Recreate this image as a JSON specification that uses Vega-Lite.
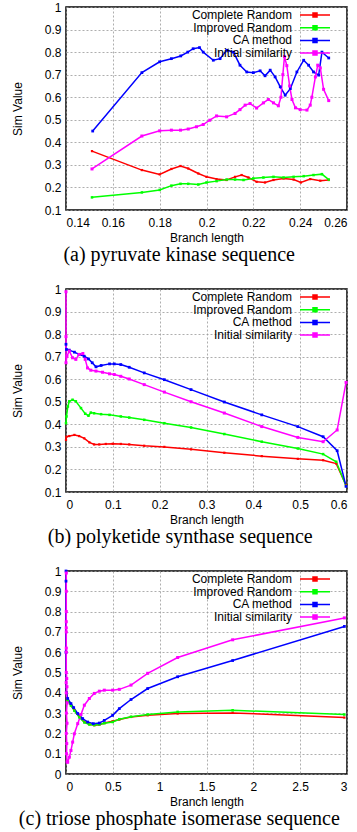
{
"$schema": "https://vega.github.io/schema/vega-lite/v6.json",
"padding": {"left": 10, "top": 0, "right": 4, "bottom": 0},
"background": "white",
"config": {
 "view": {"stroke": "black", "strokeWidth": 1.5},
 "font": "Liberation Sans",
 "axis": {"gridDash": [2, 2], "gridColor": "#999999", "gridWidth": 0.8, "domain": false, "ticks": false, "labelFontSize": 12, "labelColor": "black", "titleFontSize": 12, "titleFontWeight": "normal", "titleColor": "black", "labelFont": "Liberation Sans", "titleFont": "Liberation Sans"},
 "axisX": {"labelPadding": 7, "titlePadding": 4},
 "axisY": {"labelPadding": 5, "titlePadding": 20},
 "title": {"font": "Liberation Serif", "fontSize": 20, "fontWeight": "normal", "color": "black"},
 "concat": {"spacing": 16},
 "legend": {"title": null, "orient": "none", "legendX": 243, "legendY": 2, "symbolType": "M-3,0H3M-0.4,-0.4H0.4V0.4H-0.4Z", "symbolSize": 100, "symbolStrokeWidth": 1.5, "labelAlign": "right", "labelOffset": -29, "labelFontSize": 12, "labelFont": "Liberation Sans", "labelColor": "black", "rowPadding": 0.7, "padding": 0, "labelLimit": 300}
},
"datasets": {
 "a": [
  {"s":"CR","x":0.1511,"y":0.361,"i":1},{"s":"CR","x":0.1724,"y":0.277,"i":2},{"s":"CR","x":0.180,"y":0.258,"i":3},{"s":"CR","x":0.185,"y":0.282,"i":4},{"s":"CR","x":0.1889,"y":0.295,"i":5},{"s":"CR","x":0.1922,"y":0.284,"i":6},{"s":"CR","x":0.1965,"y":0.262,"i":7},{"s":"CR","x":0.200,"y":0.247,"i":8},{"s":"CR","x":0.2043,"y":0.237,"i":9},{"s":"CR","x":0.2086,"y":0.233,"i":10},{"s":"CR","x":0.2122,"y":0.247,"i":11},{"s":"CR","x":0.215,"y":0.255,"i":12},{"s":"CR","x":0.2179,"y":0.244,"i":13},{"s":"CR","x":0.2214,"y":0.225,"i":14},{"s":"CR","x":0.225,"y":0.222,"i":15},{"s":"CR","x":0.2286,"y":0.233,"i":16},{"s":"CR","x":0.2329,"y":0.240,"i":17},{"s":"CR","x":0.2372,"y":0.235,"i":18},{"s":"CR","x":0.2403,"y":0.222,"i":19},{"s":"CR","x":0.2443,"y":0.237,"i":20},{"s":"CR","x":0.2486,"y":0.230,"i":21},{"s":"CR","x":0.2522,"y":0.233,"i":22},
  {"s":"IR","x":0.1511,"y":0.156,"i":30},{"s":"IR","x":0.1724,"y":0.178,"i":31},{"s":"IR","x":0.180,"y":0.189,"i":32},{"s":"IR","x":0.185,"y":0.208,"i":33},{"s":"IR","x":0.1889,"y":0.216,"i":34},{"s":"IR","x":0.1922,"y":0.216,"i":35},{"s":"IR","x":0.1965,"y":0.213,"i":36},{"s":"IR","x":0.200,"y":0.222,"i":37},{"s":"IR","x":0.2043,"y":0.228,"i":38},{"s":"IR","x":0.2086,"y":0.235,"i":39},{"s":"IR","x":0.2122,"y":0.235,"i":40},{"s":"IR","x":0.2158,"y":0.233,"i":41},{"s":"IR","x":0.220,"y":0.240,"i":42},{"s":"IR","x":0.2243,"y":0.244,"i":43},{"s":"IR","x":0.2286,"y":0.247,"i":44},{"s":"IR","x":0.2329,"y":0.244,"i":45},{"s":"IR","x":0.2372,"y":0.247,"i":46},{"s":"IR","x":0.2415,"y":0.250,"i":47},{"s":"IR","x":0.2457,"y":0.255,"i":48},{"s":"IR","x":0.2493,"y":0.259,"i":49},{"s":"IR","x":0.2522,"y":0.235,"i":50},
  {"s":"CA","x":0.1514,"y":0.450,"i":60},{"s":"CA","x":0.1724,"y":0.709,"i":61},{"s":"CA","x":0.180,"y":0.757,"i":62},{"s":"CA","x":0.185,"y":0.771,"i":63},{"s":"CA","x":0.189,"y":0.783,"i":64},{"s":"CA","x":0.192,"y":0.800,"i":65},{"s":"CA","x":0.1943,"y":0.815,"i":66},{"s":"CA","x":0.197,"y":0.820,"i":67},{"s":"CA","x":0.1986,"y":0.800,"i":68},{"s":"CA","x":0.2029,"y":0.764,"i":69},{"s":"CA","x":0.2058,"y":0.771,"i":70},{"s":"CA","x":0.2086,"y":0.808,"i":71},{"s":"CA","x":0.2115,"y":0.800,"i":72},{"s":"CA","x":0.2143,"y":0.742,"i":73},{"s":"CA","x":0.2172,"y":0.712,"i":74},{"s":"CA","x":0.220,"y":0.709,"i":75},{"s":"CA","x":0.2229,"y":0.717,"i":76},{"s":"CA","x":0.225,"y":0.695,"i":77},{"s":"CA","x":0.2272,"y":0.720,"i":78},{"s":"CA","x":0.2293,"y":0.690,"i":79},{"s":"CA","x":0.2315,"y":0.646,"i":80},{"s":"CA","x":0.2336,"y":0.609,"i":81},{"s":"CA","x":0.2358,"y":0.638,"i":82},{"s":"CA","x":0.2386,"y":0.712,"i":83},{"s":"CA","x":0.2415,"y":0.764,"i":84},{"s":"CA","x":0.2436,"y":0.742,"i":85},{"s":"CA","x":0.2457,"y":0.712,"i":86},{"s":"CA","x":0.2479,"y":0.698,"i":87},{"s":"CA","x":0.2493,"y":0.800,"i":88},{"s":"CA","x":0.2522,"y":0.774,"i":89},
  {"s":"IS","x":0.1511,"y":0.282,"i":100},{"s":"IS","x":0.1724,"y":0.428,"i":101},{"s":"IS","x":0.180,"y":0.451,"i":102},{"s":"IS","x":0.185,"y":0.454,"i":103},{"s":"IS","x":0.1889,"y":0.454,"i":104},{"s":"IS","x":0.1922,"y":0.459,"i":105},{"s":"IS","x":0.1957,"y":0.469,"i":106},{"s":"IS","x":0.1986,"y":0.479,"i":107},{"s":"IS","x":0.2014,"y":0.498,"i":108},{"s":"IS","x":0.2043,"y":0.517,"i":109},{"s":"IS","x":0.2086,"y":0.513,"i":110},{"s":"IS","x":0.2122,"y":0.528,"i":111},{"s":"IS","x":0.2143,"y":0.545,"i":112},{"s":"IS","x":0.2165,"y":0.565,"i":113},{"s":"IS","x":0.2186,"y":0.572,"i":114},{"s":"IS","x":0.2214,"y":0.552,"i":115},{"s":"IS","x":0.2243,"y":0.575,"i":116},{"s":"IS","x":0.2264,"y":0.590,"i":117},{"s":"IS","x":0.2286,"y":0.575,"i":118},{"s":"IS","x":0.2307,"y":0.562,"i":119},{"s":"IS","x":0.2318,"y":0.600,"i":120},{"s":"IS","x":0.2326,"y":0.700,"i":121},{"s":"IS","x":0.2333,"y":0.780,"i":122},{"s":"IS","x":0.2343,"y":0.740,"i":123},{"s":"IS","x":0.2355,"y":0.650,"i":124},{"s":"IS","x":0.2365,"y":0.590,"i":125},{"s":"IS","x":0.238,"y":0.553,"i":126},{"s":"IS","x":0.240,"y":0.545,"i":127},{"s":"IS","x":0.2429,"y":0.543,"i":128},{"s":"IS","x":0.2443,"y":0.565,"i":129},{"s":"IS","x":0.245,"y":0.600,"i":130},{"s":"IS","x":0.2465,"y":0.690,"i":131},{"s":"IS","x":0.2475,"y":0.742,"i":132},{"s":"IS","x":0.2486,"y":0.730,"i":133},{"s":"IS","x":0.250,"y":0.635,"i":134},{"s":"IS","x":0.2522,"y":0.585,"i":135}
 ],
 "b": [
  {"s":"CR","x":0,"y":0.331,"i":1},{"s":"CR","x":0.001,"y":0.345,"i":2},{"s":"CR","x":0.007,"y":0.348,"i":3},{"s":"CR","x":0.018,"y":0.353,"i":4},{"s":"CR","x":0.028,"y":0.348,"i":5},{"s":"CR","x":0.039,"y":0.338,"i":6},{"s":"CR","x":0.05,"y":0.320,"i":7},{"s":"CR","x":0.06,"y":0.311,"i":8},{"s":"CR","x":0.071,"y":0.311,"i":9},{"s":"CR","x":0.085,"y":0.313,"i":10},{"s":"CR","x":0.1,"y":0.314,"i":11},{"s":"CR","x":0.117,"y":0.313,"i":12},{"s":"CR","x":0.135,"y":0.311,"i":13},{"s":"CR","x":0.167,"y":0.305,"i":14},{"s":"CR","x":0.21,"y":0.300,"i":15},{"s":"CR","x":0.267,"y":0.289,"i":16},{"s":"CR","x":0.338,"y":0.274,"i":17},{"s":"CR","x":0.418,"y":0.259,"i":18},{"s":"CR","x":0.495,"y":0.247,"i":19},{"s":"CR","x":0.549,"y":0.241,"i":20},{"s":"CR","x":0.577,"y":0.226,"i":21},{"s":"CR","x":0.598,"y":0.130,"i":22},
  {"s":"IR","x":0,"y":0.405,"i":30},{"s":"IR","x":0.001,"y":0.435,"i":31},{"s":"IR","x":0.004,"y":0.479,"i":32},{"s":"IR","x":0.007,"y":0.502,"i":33},{"s":"IR","x":0.014,"y":0.509,"i":34},{"s":"IR","x":0.021,"y":0.502,"i":35},{"s":"IR","x":0.032,"y":0.472,"i":36},{"s":"IR","x":0.041,"y":0.447,"i":37},{"s":"IR","x":0.048,"y":0.438,"i":38},{"s":"IR","x":0.053,"y":0.452,"i":39},{"s":"IR","x":0.06,"y":0.449,"i":40},{"s":"IR","x":0.075,"y":0.445,"i":41},{"s":"IR","x":0.093,"y":0.442,"i":42},{"s":"IR","x":0.117,"y":0.435,"i":43},{"s":"IR","x":0.135,"y":0.430,"i":44},{"s":"IR","x":0.167,"y":0.420,"i":45},{"s":"IR","x":0.21,"y":0.405,"i":46},{"s":"IR","x":0.267,"y":0.386,"i":47},{"s":"IR","x":0.338,"y":0.357,"i":48},{"s":"IR","x":0.418,"y":0.323,"i":49},{"s":"IR","x":0.495,"y":0.293,"i":50},{"s":"IR","x":0.549,"y":0.268,"i":51},{"s":"IR","x":0.577,"y":0.234,"i":52},{"s":"IR","x":0.598,"y":0.127,"i":53},
  {"s":"CA","x":0,"y":0.755,"i":60},{"s":"CA","x":0.001,"y":0.732,"i":61},{"s":"CA","x":0.007,"y":0.729,"i":62},{"s":"CA","x":0.018,"y":0.720,"i":63},{"s":"CA","x":0.028,"y":0.710,"i":64},{"s":"CA","x":0.039,"y":0.702,"i":65},{"s":"CA","x":0.048,"y":0.690,"i":66},{"s":"CA","x":0.056,"y":0.673,"i":67},{"s":"CA","x":0.064,"y":0.655,"i":68},{"s":"CA","x":0.075,"y":0.661,"i":69},{"s":"CA","x":0.093,"y":0.668,"i":70},{"s":"CA","x":0.103,"y":0.668,"i":71},{"s":"CA","x":0.117,"y":0.665,"i":72},{"s":"CA","x":0.135,"y":0.653,"i":73},{"s":"CA","x":0.167,"y":0.628,"i":74},{"s":"CA","x":0.21,"y":0.598,"i":75},{"s":"CA","x":0.267,"y":0.554,"i":76},{"s":"CA","x":0.338,"y":0.499,"i":77},{"s":"CA","x":0.418,"y":0.442,"i":78},{"s":"CA","x":0.495,"y":0.390,"i":79},{"s":"CA","x":0.549,"y":0.345,"i":80},{"s":"CA","x":0.579,"y":0.283,"i":81},{"s":"CA","x":0.598,"y":0.125,"i":82},
  {"s":"IS","x":0,"y":0.988,"i":100},{"s":"IS","x":0,"y":0.789,"i":101},{"s":"IS","x":0,"y":0.673,"i":102},{"s":"IS","x":0.002,"y":0.702,"i":103},{"s":"IS","x":0.007,"y":0.725,"i":104},{"s":"IS","x":0.014,"y":0.695,"i":105},{"s":"IS","x":0.021,"y":0.688,"i":106},{"s":"IS","x":0.028,"y":0.710,"i":107},{"s":"IS","x":0.036,"y":0.714,"i":108},{"s":"IS","x":0.041,"y":0.688,"i":109},{"s":"IS","x":0.046,"y":0.650,"i":110},{"s":"IS","x":0.053,"y":0.640,"i":111},{"s":"IS","x":0.064,"y":0.636,"i":112},{"s":"IS","x":0.078,"y":0.631,"i":113},{"s":"IS","x":0.093,"y":0.624,"i":114},{"s":"IS","x":0.103,"y":0.621,"i":115},{"s":"IS","x":0.117,"y":0.613,"i":116},{"s":"IS","x":0.135,"y":0.601,"i":117},{"s":"IS","x":0.167,"y":0.576,"i":118},{"s":"IS","x":0.21,"y":0.543,"i":119},{"s":"IS","x":0.267,"y":0.500,"i":120},{"s":"IS","x":0.338,"y":0.450,"i":121},{"s":"IS","x":0.418,"y":0.390,"i":122},{"s":"IS","x":0.495,"y":0.342,"i":123},{"s":"IS","x":0.549,"y":0.323,"i":124},{"s":"IS","x":0.579,"y":0.375,"i":125},{"s":"IS","x":0.598,"y":0.586,"i":126}
 ],
 "c": [
  {"s":"CR","x":0.003,"y":0.40,"i":1},{"s":"CR","x":0.018,"y":0.364,"i":2},{"s":"CR","x":0.053,"y":0.339,"i":3},{"s":"CR","x":0.089,"y":0.314,"i":4},{"s":"CR","x":0.142,"y":0.281,"i":5},{"s":"CR","x":0.196,"y":0.256,"i":6},{"s":"CR","x":0.249,"y":0.245,"i":7},{"s":"CR","x":0.302,"y":0.240,"i":8},{"s":"CR","x":0.356,"y":0.243,"i":9},{"s":"CR","x":0.409,"y":0.251,"i":10},{"s":"CR","x":0.498,"y":0.260,"i":11},{"s":"CR","x":0.569,"y":0.268,"i":12},{"s":"CR","x":0.694,"y":0.281,"i":13},{"s":"CR","x":0.872,"y":0.289,"i":14},{"s":"CR","x":1.192,"y":0.298,"i":15},{"s":"CR","x":1.779,"y":0.301,"i":16},{"s":"CR","x":2.972,"y":0.278,"i":17},
  {"s":"IR","x":0.003,"y":0.40,"i":30},{"s":"IR","x":0.018,"y":0.364,"i":31},{"s":"IR","x":0.053,"y":0.337,"i":32},{"s":"IR","x":0.089,"y":0.312,"i":33},{"s":"IR","x":0.142,"y":0.279,"i":34},{"s":"IR","x":0.196,"y":0.254,"i":35},{"s":"IR","x":0.249,"y":0.244,"i":36},{"s":"IR","x":0.302,"y":0.241,"i":37},{"s":"IR","x":0.356,"y":0.244,"i":38},{"s":"IR","x":0.409,"y":0.250,"i":39},{"s":"IR","x":0.498,"y":0.256,"i":40},{"s":"IR","x":0.569,"y":0.270,"i":41},{"s":"IR","x":0.694,"y":0.282,"i":42},{"s":"IR","x":0.872,"y":0.293,"i":43},{"s":"IR","x":1.192,"y":0.306,"i":44},{"s":"IR","x":1.779,"y":0.314,"i":45},{"s":"IR","x":2.972,"y":0.293,"i":46},
  {"s":"CA","x":0,"y":1.0,"i":60},{"s":"CA","x":0,"y":0.95,"i":61},{"s":"CA","x":0,"y":0.60,"i":62},{"s":"CA","x":0.005,"y":0.40,"i":63},{"s":"CA","x":0.018,"y":0.372,"i":64},{"s":"CA","x":0.053,"y":0.347,"i":65},{"s":"CA","x":0.082,"y":0.327,"i":66},{"s":"CA","x":0.125,"y":0.298,"i":67},{"s":"CA","x":0.178,"y":0.273,"i":68},{"s":"CA","x":0.231,"y":0.256,"i":69},{"s":"CA","x":0.292,"y":0.248,"i":70},{"s":"CA","x":0.356,"y":0.251,"i":71},{"s":"CA","x":0.409,"y":0.264,"i":72},{"s":"CA","x":0.498,"y":0.289,"i":73},{"s":"CA","x":0.569,"y":0.322,"i":74},{"s":"CA","x":0.694,"y":0.367,"i":75},{"s":"CA","x":0.872,"y":0.421,"i":76},{"s":"CA","x":1.192,"y":0.479,"i":77},{"s":"CA","x":1.779,"y":0.559,"i":78},{"s":"CA","x":2.972,"y":0.727,"i":79},
  {"s":"IS","x":0.003,"y":0.99,"i":100},{"s":"IS","x":0.003,"y":0.90,"i":101},{"s":"IS","x":0.003,"y":0.80,"i":102},{"s":"IS","x":0.003,"y":0.75,"i":103},{"s":"IS","x":0.003,"y":0.72,"i":104},{"s":"IS","x":0.003,"y":0.70,"i":105},{"s":"IS","x":0.003,"y":0.62,"i":106},{"s":"IS","x":0.003,"y":0.60,"i":107},{"s":"IS","x":0.003,"y":0.50,"i":108},{"s":"IS","x":0.008,"y":0.47,"i":109},{"s":"IS","x":0.002,"y":0.45,"i":110},{"s":"IS","x":0.01,"y":0.43,"i":111},{"s":"IS","x":0.003,"y":0.40,"i":112},{"s":"IS","x":0.012,"y":0.35,"i":113},{"s":"IS","x":0.004,"y":0.30,"i":114},{"s":"IS","x":0.011,"y":0.25,"i":115},{"s":"IS","x":0.003,"y":0.20,"i":116},{"s":"IS","x":0.008,"y":0.15,"i":117},{"s":"IS","x":0.006,"y":0.10,"i":118},{"s":"IS","x":0.012,"y":0.06,"i":119},{"s":"IS","x":0.018,"y":0.058,"i":120},{"s":"IS","x":0.036,"y":0.083,"i":121},{"s":"IS","x":0.053,"y":0.116,"i":122},{"s":"IS","x":0.071,"y":0.157,"i":123},{"s":"IS","x":0.089,"y":0.198,"i":124},{"s":"IS","x":0.125,"y":0.248,"i":125},{"s":"IS","x":0.16,"y":0.293,"i":126},{"s":"IS","x":0.196,"y":0.339,"i":127},{"s":"IS","x":0.249,"y":0.372,"i":128},{"s":"IS","x":0.302,"y":0.397,"i":129},{"s":"IS","x":0.356,"y":0.408,"i":130},{"s":"IS","x":0.409,"y":0.413,"i":131},{"s":"IS","x":0.498,"y":0.413,"i":132},{"s":"IS","x":0.569,"y":0.417,"i":133},{"s":"IS","x":0.694,"y":0.438,"i":134},{"s":"IS","x":0.872,"y":0.496,"i":135},{"s":"IS","x":1.192,"y":0.574,"i":136},{"s":"IS","x":1.779,"y":0.661,"i":137},{"s":"IS","x":2.972,"y":0.769,"i":138}
 ]
},
"vconcat": [
 {
  "width": 281, "height": 203,
  "data": {"name": "a"},
  "title": {"text": "(a) pyruvate kinase sequence", "orient": "bottom", "anchor": "middle", "frame": "bounds", "offset": 2},
  "encoding": {
   "x": {"field": "x", "type": "quantitative", "scale": {"domain": [0.14, 0.26], "nice": false, "zero": false}, "axis": {"values": [0.14, 0.16, 0.18, 0.2, 0.22, 0.24, 0.26], "format": "~g", "title": "Branch length"}},
   "y": {"field": "y", "type": "quantitative", "scale": {"domain": [0.1, 1], "nice": false, "zero": false}, "axis": {"values": [0.1, 0.2, 0.3, 0.4, 0.5, 0.6, 0.7, 0.8, 0.9, 1], "format": "~g", "title": "Sim Value"}},
   "color": {"field": "s", "type": "nominal", "scale": {"domain": ["CR", "IR", "CA", "IS"], "range": ["#ff0000", "#00ff00", "#0000ff", "#ff00ff"]}, "legend": {"labelExpr": "datum.label == 'CR' ? 'Complete Random' : datum.label == 'IR' ? 'Improved Random' : datum.label == 'CA' ? 'CA method' : 'Initial similarity'", "encode": {"symbols": {"update": {"fill": {"scale": "color", "field": "value"}, "stroke": {"scale": "color", "field": "value"}}}}}}
  },
  "layer": [
   {"mark": {"type": "line", "strokeWidth": 1.5, "clip": false}, "encoding": {"order": {"field": "i", "type": "quantitative"}}},
   {"mark": {"type": "point", "shape": "square", "filled": true, "opacity": 1}, "encoding": {"size": {"field": "s", "type": "ordinal", "scale": {"domain": ["CR", "IR", "CA", "IS"], "range": [5, 9, 12, 25]}, "legend": null}}}
  ]
 },
 {
  "width": 281, "height": 203,
  "data": {"name": "b"},
  "title": {"text": "(b) polyketide synthase sequence", "orient": "bottom", "anchor": "middle", "frame": "bounds", "offset": 2},
  "encoding": {
   "x": {"field": "x", "type": "quantitative", "scale": {"domain": [0, 0.6], "nice": false, "zero": false}, "axis": {"values": [0, 0.1, 0.2, 0.3, 0.4, 0.5, 0.6], "format": "~g", "title": "Branch length"}},
   "y": {"field": "y", "type": "quantitative", "scale": {"domain": [0.1, 1], "nice": false, "zero": false}, "axis": {"values": [0.1, 0.2, 0.3, 0.4, 0.5, 0.6, 0.7, 0.8, 0.9, 1], "format": "~g", "title": "Sim Value"}},
   "color": {"field": "s", "type": "nominal", "scale": {"domain": ["CR", "IR", "CA", "IS"], "range": ["#ff0000", "#00ff00", "#0000ff", "#ff00ff"]}, "legend": {"labelExpr": "datum.label == 'CR' ? 'Complete Random' : datum.label == 'IR' ? 'Improved Random' : datum.label == 'CA' ? 'CA method' : 'Initial similarity'", "encode": {"symbols": {"update": {"fill": {"scale": "color", "field": "value"}, "stroke": {"scale": "color", "field": "value"}}}}}}
  },
  "layer": [
   {"mark": {"type": "line", "strokeWidth": 1.5, "clip": false}, "encoding": {"order": {"field": "i", "type": "quantitative"}}},
   {"mark": {"type": "point", "shape": "square", "filled": true, "opacity": 1}, "encoding": {"size": {"field": "s", "type": "ordinal", "scale": {"domain": ["CR", "IR", "CA", "IS"], "range": [5, 9, 12, 25]}, "legend": null}}}
  ]
 },
 {
  "width": 281, "height": 203,
  "data": {"name": "c"},
  "title": {"text": "(c) triose phosphate isomerase sequence", "orient": "bottom", "anchor": "middle", "frame": "bounds", "offset": 2},
  "encoding": {
   "x": {"field": "x", "type": "quantitative", "scale": {"domain": [0, 3], "nice": false, "zero": false}, "axis": {"values": [0, 0.5, 1, 1.5, 2, 2.5, 3], "format": "~g", "title": "Branch length"}},
   "y": {"field": "y", "type": "quantitative", "scale": {"domain": [0, 1], "nice": false, "zero": false}, "axis": {"values": [0, 0.1, 0.2, 0.3, 0.4, 0.5, 0.6, 0.7, 0.8, 0.9, 1], "format": "~g", "title": "Sim Value"}},
   "color": {"field": "s", "type": "nominal", "scale": {"domain": ["CR", "IR", "CA", "IS"], "range": ["#ff0000", "#00ff00", "#0000ff", "#ff00ff"]}, "legend": {"labelExpr": "datum.label == 'CR' ? 'Complete Random' : datum.label == 'IR' ? 'Improved Random' : datum.label == 'CA' ? 'CA method' : 'Initial similarity'", "encode": {"symbols": {"update": {"fill": {"scale": "color", "field": "value"}, "stroke": {"scale": "color", "field": "value"}}}}}}
  },
  "layer": [
   {"mark": {"type": "line", "strokeWidth": 1.5, "clip": false}, "encoding": {"order": {"field": "i", "type": "quantitative"}}},
   {"mark": {"type": "point", "shape": "square", "filled": true, "opacity": 1}, "encoding": {"size": {"field": "s", "type": "ordinal", "scale": {"domain": ["CR", "IR", "CA", "IS"], "range": [5, 9, 12, 25]}, "legend": null}}}
  ]
 }
],
"resolve": {"legend": {"color": "independent"}}
}
